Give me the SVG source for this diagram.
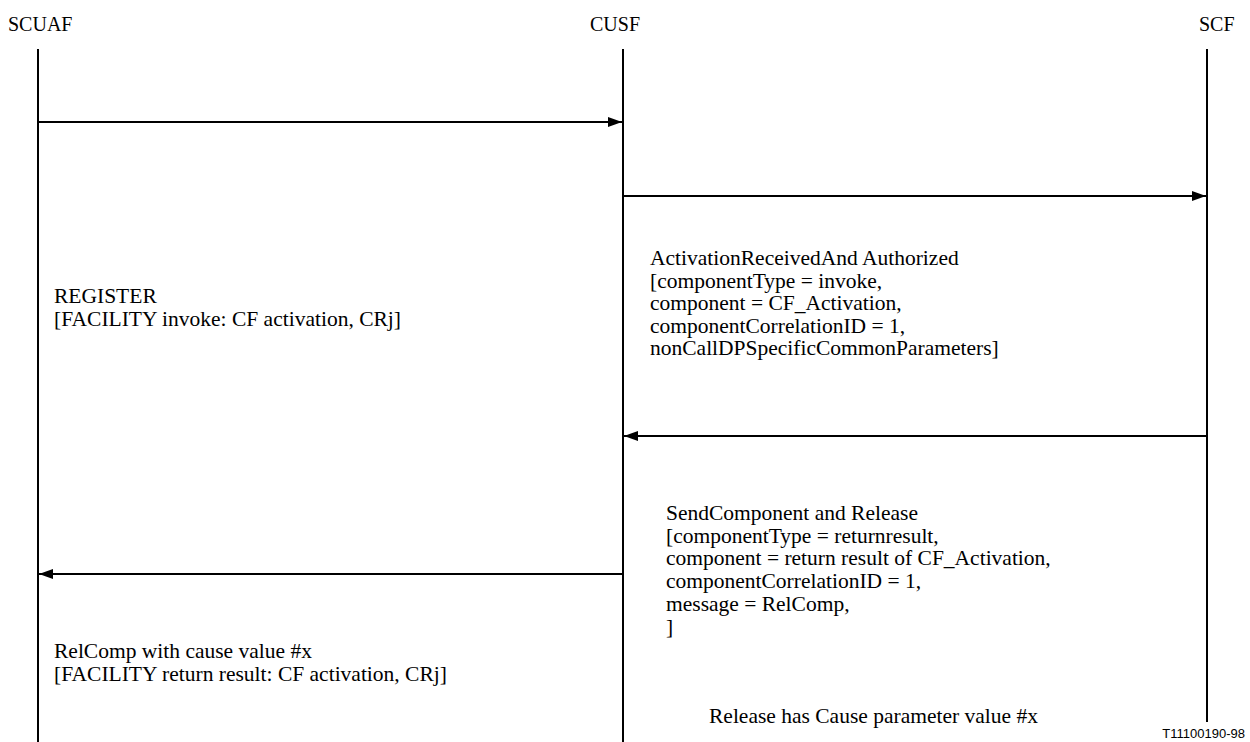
<svg xmlns="http://www.w3.org/2000/svg" width="1250" height="742" viewBox="0 0 1250 742">
  <style>
    .hdr { font-family: "Liberation Serif", "Times New Roman", serif; font-size: 20px; fill: #000; }
    .lbl { font-family: "Liberation Serif", "Times New Roman", serif; font-size: 21.5px; fill: #000; }
    .life { stroke: #000; stroke-width: 2; fill: none; }
    .msg { stroke: #000; stroke-width: 2; fill: none; marker-end: url(#head); }
    .ref { font-family: "Liberation Sans", Arial, sans-serif; font-size: 13px; fill: #000; }
  </style>
  <defs>
    <marker id="head" viewBox="0 0 14 10" refX="14" refY="5" markerWidth="14" markerHeight="10" markerUnits="userSpaceOnUse" orient="auto">
      <path d="M0,0 L14,5 L0,10 Z" fill="#000"/>
    </marker>
  </defs>

  <rect width="1250" height="742" fill="#fff"/>

  <!-- Entities with their lifelines -->
  <g id="scuaf">
    <text class="hdr" x="8" y="31">SCUAF</text>
    <line class="life" x1="38" y1="49" x2="38" y2="742"/>
  </g>
  <g id="cusf">
    <text class="hdr" x="590" y="31">CUSF</text>
    <line class="life" x1="623" y1="49" x2="623" y2="742"/>
  </g>
  <g id="scf">
    <text class="hdr" x="1199" y="31">SCF</text>
    <line class="life" x1="1207" y1="49" x2="1207" y2="722"/>
  </g>

  <!-- Messages -->
  <g id="connectors">
    <line class="msg" x1="38" y1="122" x2="622" y2="122"/>
    <line class="msg" x1="623" y1="196" x2="1206" y2="196"/>
    <line class="msg" x1="1207" y1="436" x2="624" y2="436"/>
    <line class="msg" x1="623" y1="574" x2="39" y2="574"/>
  </g>

  <!-- Message labels (multi-line blocks set as tspans) -->
  <g id="label-register">
    <text class="lbl" x="54" y="303">REGISTER<tspan x="54" dy="22.5">[FACILITY invoke: CF activation, CRj]</tspan></text>
  </g>
  <g id="label-activation">
    <text class="lbl" x="650" y="265">ActivationReceivedAnd Authorized<tspan x="650" dy="22.5">[componentType = invoke,</tspan><tspan x="650" dy="22.5">component = CF_Activation,</tspan><tspan x="650" dy="22.5">componentCorrelationID = 1,</tspan><tspan x="650" dy="22.5">nonCallDPSpecificCommonParameters]</tspan></text>
  </g>
  <g id="label-sendcomponent">
    <text class="lbl" x="666" y="520">SendComponent and Release<tspan x="666" dy="22.7">[componentType = returnresult,</tspan><tspan x="666" dy="22.7">component = return result of CF_Activation,</tspan><tspan x="666" dy="22.7">componentCorrelationID = 1,</tspan><tspan x="666" dy="22.7">message = RelComp,</tspan><tspan x="666" dy="22.7">]</tspan></text>
  </g>
  <g id="label-relcomp">
    <text class="lbl" x="54" y="658">RelComp with cause value #x<tspan x="54" dy="22.5">[FACILITY return result: CF activation, CRj]</tspan></text>
  </g>
  <g id="label-cause">
    <text class="lbl" x="709" y="723">Release has Cause parameter value #x</text>
  </g>

  <text class="ref" x="1245" y="738" text-anchor="end">T11100190-98</text>
</svg>
